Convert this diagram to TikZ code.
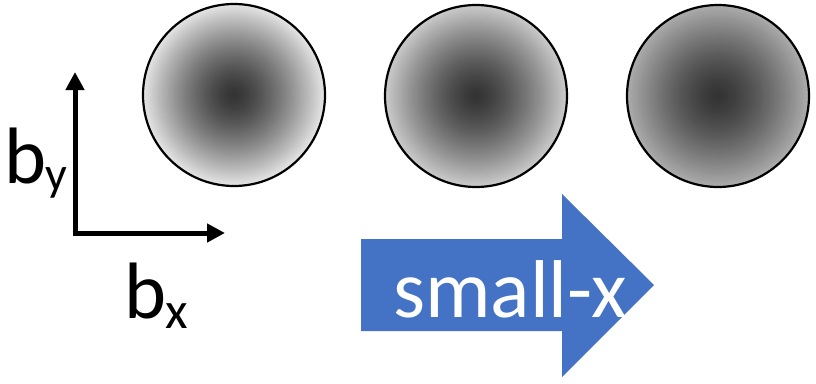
\documentclass[tikz,border=0pt]{standalone}
\usepackage{fontspec}
\setmainfont{Carlito}
\usepackage{tikz}
\usetikzlibrary{arrows.meta,positioning}

\definecolor{arrowblue}{HTML}{4472C4}

\tikzset{
  beam/.style={draw, circle, line width=2.2pt, minimum size=182pt, inner sep=0pt},
  axis/.style={line width=5pt, -{Triangle[length=18pt,width=18pt]}},
  bigtext/.style={font=\fontsize{80}{80}\selectfont, inner sep=0pt}
}

\begin{document}
\begin{tikzpicture}[x=1pt, y=-1pt]
        \useasboundingbox (0,0) rectangle (816,383);
        \coordinate (C1) at (234, 95);
        \coordinate (C2) at (476, 96);
        \coordinate (C3) at (718, 96);
        % dark core fading to a lighter rim
        \foreach \c/\rim in {C1/11, C2/21, C3/33} {
            \foreach \k in {40,39,...,1} {
                \pgfmathsetmacro{\dark}{80 - (80-\rim)*(\k/40)^1.4}
                \fill[black!\dark] (\c) circle ({91*\k/40});
            }
        }
        \node (B1) [beam] at (C1) {};
        \node (B2) [beam] at (C2) {};
        \node (B3) [beam] at (C3) {};

        \coordinate (O) at (75, 233);
        \coordinate (Y) at (75, 72);
        \coordinate (X) at (225, 233);
        \draw[axis] (O) -- (Y);
        \draw[axis] ([xshift=-2.5pt]O) -- (X);

        \node (by) [bigtext, anchor=base west] at (4, 183) {b\kern-1pt\raisebox{-7pt}{\fontsize{48}{48}\selectfont y}};
        \node (bx) [bigtext, anchor=base west] at (124, 318) {b\kern-1pt\raisebox{-10pt}{\fontsize{52}{52}\selectfont x}};

        \fill[arrowblue] (361, 239) -- (562, 239) -- (562, 194) -- (654, 285)
            -- (562, 377) -- (562, 331) -- (361, 331) -- cycle;
        \node (sx) [bigtext, font=\fontsize{82}{82}\selectfont, text=white, anchor=base] at (510, 317) {small-x};
    \end{tikzpicture}
\end{document}
